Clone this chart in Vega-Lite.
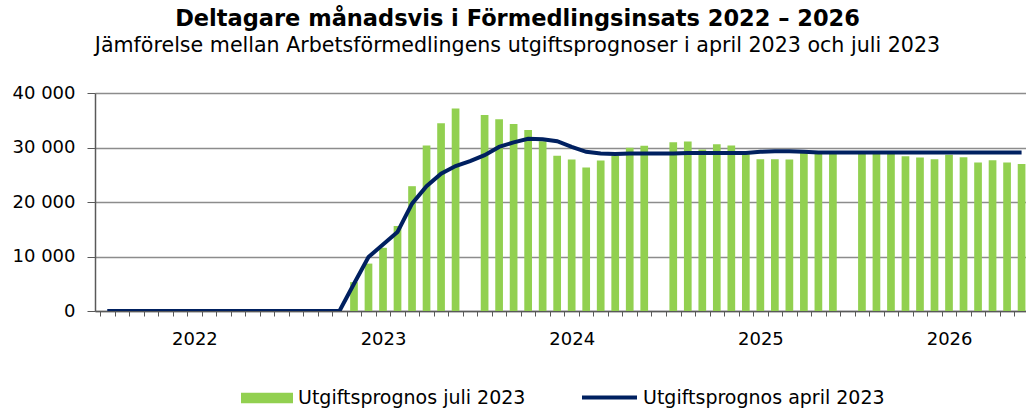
{
  "$schema": "https://vega.github.io/schema/vega-lite/v6.json",
  "width": 931,
  "height": 218,
  "autosize": {"type": "none"},
  "padding": {"left": 95, "top": 93, "right": 0, "bottom": 101},
  "background": "white",
  "config": {"view": {"stroke": null}, "font": "DejaVu Sans"},
  "title": {
    "text": "Deltagare månadsvis i Förmedlingsinsats 2022 – 2026",
    "subtitle": "Jämförelse mellan Arbetsförmedlingens utgiftsprognoser i april 2023 och juli 2023",
    "font": "DejaVu Sans",
    "subtitleFont": "DejaVu Sans",
    "fontSize": 22.5,
    "fontWeight": "bold",
    "subtitleFontSize": 20.6,
    "color": "black",
    "subtitleColor": "black",
    "anchor": "middle",
    "frame": "group",
    "dx": -43,
    "offset": 27,
    "subtitlePadding": 6
  },
  "data": {
    "values": [
      {"i": 0, "bar": 0, "line": 0},
      {"i": 1, "bar": 0, "line": 0},
      {"i": 2, "bar": 0, "line": 0},
      {"i": 3, "bar": 0, "line": 0},
      {"i": 4, "bar": 0, "line": 0},
      {"i": 5, "bar": 0, "line": 0},
      {"i": 6, "bar": 0, "line": 0},
      {"i": 7, "bar": 0, "line": 0},
      {"i": 8, "bar": 0, "line": 0},
      {"i": 9, "bar": 0, "line": 0},
      {"i": 10, "bar": 0, "line": 0},
      {"i": 11, "bar": 0, "line": 0},
      {"i": 12, "bar": null, "line": 0},
      {"i": 13, "bar": 0, "line": 0},
      {"i": 14, "bar": 0, "line": 0},
      {"i": 15, "bar": 0, "line": 0},
      {"i": 16, "bar": 0, "line": 0},
      {"i": 17, "bar": 5300, "line": 5000},
      {"i": 18, "bar": 8700, "line": 9900},
      {"i": 19, "bar": 11600, "line": 12200},
      {"i": 20, "bar": 15600, "line": 14500},
      {"i": 21, "bar": 22900, "line": 19700},
      {"i": 22, "bar": 30350, "line": 22900},
      {"i": 23, "bar": 34450, "line": 25200},
      {"i": 24, "bar": 37150, "line": 26600},
      {"i": 25, "bar": null, "line": 27500},
      {"i": 26, "bar": 35950, "line": 28600},
      {"i": 27, "bar": 35200, "line": 30100},
      {"i": 28, "bar": 34300, "line": 30950},
      {"i": 29, "bar": 33200, "line": 31600},
      {"i": 30, "bar": 31150, "line": 31500},
      {"i": 31, "bar": 28500, "line": 31150},
      {"i": 32, "bar": 27800, "line": 30100},
      {"i": 33, "bar": 26350, "line": 29200},
      {"i": 34, "bar": 27600, "line": 28900},
      {"i": 35, "bar": 28500, "line": 28800},
      {"i": 36, "bar": 29950, "line": 28900},
      {"i": 37, "bar": 30300, "line": 28900},
      {"i": 38, "bar": null, "line": 28900},
      {"i": 39, "bar": 30950, "line": 28900},
      {"i": 40, "bar": 31100, "line": 29000},
      {"i": 41, "bar": 29650, "line": 29000},
      {"i": 42, "bar": 30600, "line": 29000},
      {"i": 43, "bar": 30350, "line": 29000},
      {"i": 44, "bar": 28750, "line": 29000},
      {"i": 45, "bar": 27850, "line": 29200},
      {"i": 46, "bar": 27850, "line": 29300},
      {"i": 47, "bar": 27800, "line": 29300},
      {"i": 48, "bar": 29000, "line": 29200},
      {"i": 49, "bar": 29000, "line": 29100},
      {"i": 50, "bar": 29000, "line": 29100},
      {"i": 51, "bar": null, "line": 29100},
      {"i": 52, "bar": 29000, "line": 29100},
      {"i": 53, "bar": 29000, "line": 29100},
      {"i": 54, "bar": 29000, "line": 29100},
      {"i": 55, "bar": 28400, "line": 29100},
      {"i": 56, "bar": 28150, "line": 29100},
      {"i": 57, "bar": 27850, "line": 29100},
      {"i": 58, "bar": 28650, "line": 29100},
      {"i": 59, "bar": 28200, "line": 29100},
      {"i": 60, "bar": 27250, "line": 29100},
      {"i": 61, "bar": 27650, "line": 29100},
      {"i": 62, "bar": 27250, "line": 29100},
      {"i": 63, "bar": 26950, "line": 29100}
    ]
  },
  "encoding": {
    "x": {
      "field": "i",
      "type": "quantitative",
      "scale": {"domain": [-0.5, 62.96], "nice": false, "zero": false},
      "axis": {
        "title": null,
        "values": [-0.5, 0.5, 1.5, 2.5, 3.5, 4.5, 5.5, 6.5, 7.5, 8.5, 9.5, 10.5, 11.5, 12.5, 13.5, 14.5, 15.5, 16.5, 17.5, 18.5, 19.5, 20.5, 21.5, 22.5, 23.5, 24.5, 25.5, 26.5, 27.5, 28.5, 29.5, 30.5, 31.5, 32.5, 33.5, 34.5, 35.5, 36.5, 37.5, 38.5, 39.5, 40.5, 41.5, 42.5, 43.5, 44.5, 45.5, 46.5, 47.5, 48.5, 49.5, 50.5, 51.5, 52.5, 53.5, 54.5, 55.5, 56.5, 57.5, 58.5, 59.5, 60.5, 61.5, 62.5],
        "labelExpr": "(datum.value - 5.5) % 13 == 0 ? '' + (2022 + (datum.value - 5.5) / 13) : ''",
        "labelOffset": 7.33,
        "labelOverlap": false,
        "labelFlush": false,
        "labelBound": false,
        "labelFontSize": 18,
        "labelColor": "black",
        "labelFont": "DejaVu Sans",
        "labelPadding": 14,
        "grid": false,
        "tickSize": 5,
        "tickColor": "#595959",
        "tickWidth": 1,
        "domainColor": "#595959",
        "domainWidth": 1.5
      }
    }
  },
  "layer": [
    {
      "mark": {"type": "bar", "width": 7.7, "clip": true},
      "encoding": {
        "y": {
          "field": "bar",
          "type": "quantitative",
          "scale": {"domain": [0, 40000], "nice": false},
          "axis": {
            "title": null,
            "values": [0, 10000, 20000, 30000, 40000],
            "format": ",d",
            "labelExpr": "replace(datum.label, ',', ' ')",
            "labelFontSize": 18,
            "labelColor": "black",
            "labelFont": "DejaVu Sans",
            "labelPadding": 12,
            "tickSize": 8,
            "tickColor": "#595959",
            "domainColor": "#595959",
            "domainWidth": 1.5,
            "gridColor": "#8c8c8c",
            "gridWidth": 1.5
          }
        },
        "fill": {
          "datum": "Utgiftsprognos juli 2023",
          "type": "nominal",
          "scale": {"range": ["#92D050"]},
          "legend": {
            "title": null,
            "orient": "none",
            "legendX": 146,
            "legendY": 279,
            "padding": 0,
            "symbolType": "M-1,-0.2H1V0.2H-1Z",
            "symbolSize": 2704,
            "symbolStrokeWidth": 0,
            "labelFontSize": 19,
            "labelLimit": 400,
            "labelColor": "black",
            "labelFont": "DejaVu Sans",
            "labelOffset": 5
          }
        }
      }
    },
    {
      "mark": {"type": "line", "clip": true, "strokeWidth": 4},
      "encoding": {
        "y": {"field": "line", "type": "quantitative"},
        "stroke": {
          "datum": "Utgiftsprognos april 2023",
          "type": "nominal",
          "scale": {"range": ["#002060"]},
          "legend": {
            "title": null,
            "orient": "none",
            "legendX": 485,
            "legendY": 275,
            "padding": 0,
            "symbolType": "stroke",
            "symbolSize": 3025,
            "symbolStrokeWidth": 4,
            "labelFontSize": 19,
            "labelLimit": 400,
            "labelColor": "black",
            "labelFont": "DejaVu Sans",
            "labelOffset": 4
          }
        }
      }
    }
  ]
}
